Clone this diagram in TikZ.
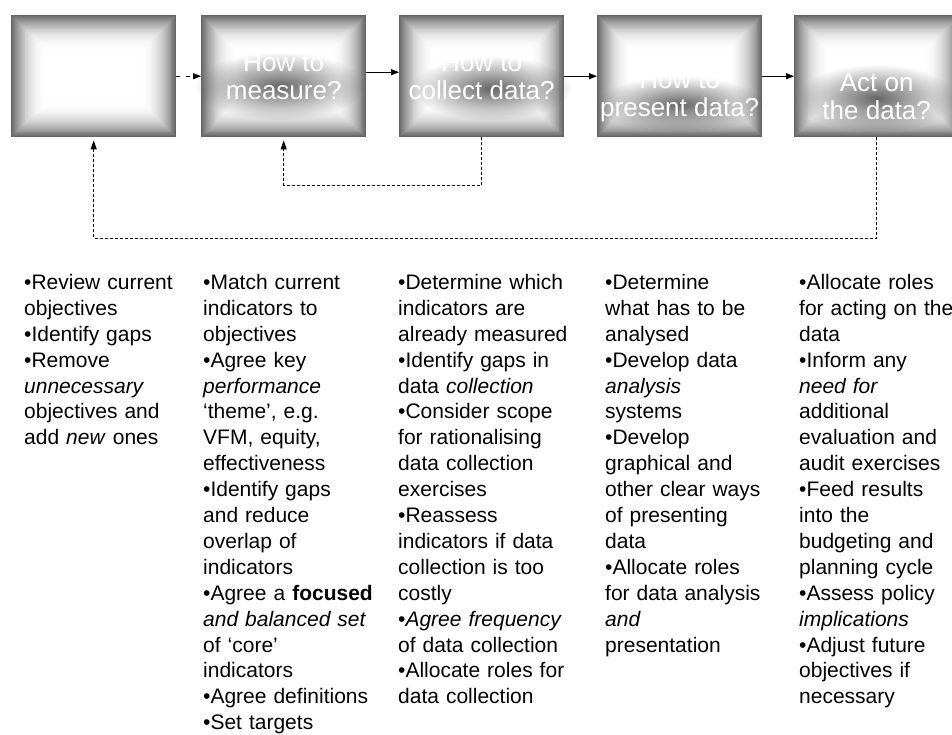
\documentclass[tikz,border=0pt]{standalone}
\usepackage{fontspec}
\setmainfont{Liberation Sans}
\usetikzlibrary{arrows.meta,fadings,calc}
% soft radial glow: opaque centre, clear rim
\tikzfading[name=softglow,inner color=transparent!15,outer color=transparent!100]
\begin{document}
\begin{tikzpicture}[x=1pt,y=-1pt,
  % grey frame fading to a white centre
  stagebox/.style={minimum width=165pt,minimum height=122pt,inner sep=0pt,anchor=north west,
    path picture={\foreach \i in {0,...,39}{\pgfmathsetmacro\g{60*(1-\i/40)^2.4}
      \fill[black!\g] ([shift={(\i*0.95pt,-\i*0.95pt)}]path picture bounding box.north west)
        rectangle ([shift={(-\i*0.95pt,\i*0.95pt)}]path picture bounding box.south east);}}},
  halo/.style={black!70,path fading=softglow},
  stagetext/.style={text=white,font=\fontsize{26}{28}\selectfont,align=center,inner sep=0pt},
  flow/.style={-{Triangle[length=8pt,width=6pt]},line width=1pt},
  feedback/.style={-{Triangle[length=9pt,width=6pt]},line width=1pt,dash pattern=on 3pt off 2pt,shorten >=3pt},
  column/.style={anchor=north west,inner sep=0pt,text width=185pt,align=left,
    font=\fontsize{21}{25.9}\selectfont}]
\fill[white] (0,0) rectangle (952,734);
\useasboundingbox (0,0) rectangle (952,734);

% stage boxes
\node[stagebox] (box1) at (11,15) {};
\node[stagebox] (box2) at (201,15) {};
\node[stagebox] (box3) at (399,15) {};
\node[stagebox] (box4) at (597,15) {};
\node[stagebox] (box5) at (794,15) {};

% dark glow behind the box titles
\fill[halo] ($(box2.center)+(-4,10)$) ellipse (85 and 34);
\fill[halo] ($(box3.center)+(10,12)$) ellipse (80 and 32);
\fill[halo] ($(box4.center)+(0,28)$) ellipse (85 and 28);
\fill[halo] ($(box5.center)+(0,22)$) ellipse (80 and 34);

\node[stagetext] (t2) at (box2.center) {How to\\measure?};
\node[stagetext] (t3) at (box3.center) {How to\\collect data?};
\node[stagetext] (t4) at ($(box4.center)+(0,20)$) {How to\\present data?};
\node[stagetext] (t5) at ($(box5.center)+(0,20)$) {Act on\\the data?};

% forward flow
\draw[flow,dash pattern=on 4pt off 6pt] (box1.east) -- (box2.west);
\draw[flow,line width=0.7pt] ($(box2.east)+(0,-4)$) -- ($(box3.west)+(0,-4)$);
\draw[flow,line width=1.3pt] (box3.east) -- (box4.west);
\draw[flow,line width=1.3pt] (box4.east) -- (box5.west);

% feedback loops
\draw[feedback] (box3.south) -- ++(0,48) -| (box2.south);
\draw[feedback] (box5.south) -- ++(0,101) -| (box1.south);

% activity lists
\node[column] (c1) at (24,274) {•Review current\\objectives\\•Identify gaps\\•Remove\\\textit{unnecessary}\\objectives and\\add \textit{new} ones};
\node[column] (c2) at (203,274) {•Match current\\indicators to\\objectives\\•Agree key\\\textit{performance}\\‘theme’, e.g.\\VFM, equity,\\effectiveness\\•Identify gaps\\and reduce\\overlap of\\indicators\\•Agree a \textbf{focused}\\\textit{and balanced set}\\of ‘core’\\indicators\\•Agree definitions\\•Set targets};
\node[column] (c3) at (398,274) {•Determine which\\indicators are\\already measured\\•Identify gaps in\\data \textit{collection}\\•Consider scope\\for rationalising\\data collection\\exercises\\•Reassess\\indicators if data\\collection is too\\costly\\•\textit{Agree frequency}\\of data collection\\•Allocate roles for\\data collection};
\node[column] (c4) at (605,274) {•Determine\\what has to be\\analysed\\•Develop data\\\textit{analysis}\\systems\\•Develop\\graphical and\\other clear ways\\of presenting\\data\\•Allocate roles\\for data analysis\\\textit{and}\\presentation};
\node[column] (c5) at (799,274) {•Allocate roles\\for acting on the\\data\\•Inform any\\\textit{need for}\\additional\\evaluation and\\audit exercises\\•Feed results\\into the\\budgeting and\\planning cycle\\•Assess policy\\\textit{implications}\\•Adjust future\\objectives if\\necessary};
\end{tikzpicture}
\end{document}
